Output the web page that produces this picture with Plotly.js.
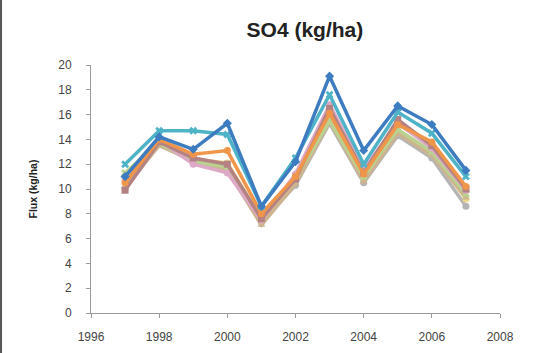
<!DOCTYPE html>
<html>
<head>
<meta charset="utf-8">
<script src="https://cdn.plot.ly/plotly-3.0.1.min.js"></script>
<style>
html,body{margin:0;padding:0;background:#fff;}
#chart{width:535px;height:353px;}
</style>
</head>
<body>
<div id="chart"></div>
<script>
const years = [1997, 1998, 1999, 2000, 2001, 2002, 2003, 2004, 2005, 2006, 2007];
const seriesNames = ["Gray", "Yellow", "Tan", "Green", "Pink", "Brown", "Orange", "Teal", "Blue"];
const grayVals   = [10.0, 13.6, 12.2, 11.6, 7.3, 10.3, 15.3, 10.5, 14.3, 12.5, 8.6];
const yellowVals = [10.6, 13.8, 12.4, 12.1, 7.6, 10.7, 15.7, 10.9, 14.7, 12.9, 9.2];
const tanVals    = [10.2, 13.5, 12.3, 11.5, 7.1, 10.4, 15.5, 10.6, 14.5, 12.7, 9.3];
const greenVals  = [11.3, 13.7, 12.2, 11.8, 7.8, 10.9, 15.5, 11.0, 14.8, 13.0, 9.6];
const pinkVals   = [10.8, 13.9, 12.0, 11.3, 7.5, 11.2, 16.8, 11.6, 15.3, 13.3, 9.9];
const brownVals  = [9.9, 13.8, 12.5, 12.0, 7.6, 10.8, 16.5, 11.3, 15.6, 13.5, 10.0];
const orangeVals = [10.5, 14.0, 12.8, 13.1, 8.0, 11.0, 16.1, 11.2, 15.2, 13.8, 10.2];
const tealVals   = [12.0, 14.7, 14.7, 14.4, 8.6, 12.5, 17.6, 12.0, 16.2, 14.5, 11.0];
const blueVals   = [11.0, 14.2, 13.2, 15.3, 8.6, 12.2, 19.1, 13.1, 16.7, 15.2, 11.5];
const xTicks = [1996, 1998, 2000, 2002, 2004, 2006, 2008];
const yTicks = [0, 2, 4, 6, 8, 10, 12, 14, 16, 18, 20];

const allVals = [grayVals, yellowVals, tanVals, greenVals, pinkVals, brownVals, orangeVals, tealVals, blueVals];
const colors = ["#b4b4b4", "#ecd98a", "#cdb48f", "#b9d28f", "#dca9c6", "#b48282", "#f0964a", "#4fb3c8", "#3d7cc0"];
const symbols = ["circle", "circle", "triangle-up", "x", "circle", "square", "circle", "x", "diamond"];

const traces = allVals.map((v, i) => ({
  x: years, y: v, name: seriesNames[i], type: 'scatter', mode: 'lines+markers',
  line: {color: colors[i], width: 3.5},
  marker: {color: colors[i], symbol: symbols[i], size: 7},
  showlegend: false
}));

const fontFam = 'Liberation Sans, Arial, sans-serif';
const layout = {
  width: 535, height: 353,
  margin: {l: 91, r: 35, t: 65, b: 40},
  paper_bgcolor: '#fff', plot_bgcolor: '#fff',
  title: {text: 'SO4 (kg/ha)', font: {family: fontFam, size: 21, color: '#222', weight: 'bold'}, x: 0.57, xanchor: 'center', y: 0.915, yanchor: 'middle'},
  xaxis: {range: [1996, 2008], tickvals: xTicks, ticktext: xTicks.map(String), showgrid: false, zeroline: false,
          showline: true, linecolor: '#9a9a9a', linewidth: 1, ticks: 'outside', ticklen: 4, tickcolor: '#9a9a9a',
          ticklabelstandoff: 9,
          tickfont: {family: fontFam, size: 12, color: '#444'}},
  yaxis: {range: [0, 20], tickvals: yTicks, showgrid: false, zeroline: false,
          showline: true, linecolor: '#9a9a9a', linewidth: 1, ticks: 'outside', ticklen: 4, tickcolor: '#9a9a9a',
          ticklabelstandoff: 12,
          tickfont: {family: fontFam, size: 12, color: '#444'},
          title: {text: 'Flux (kg/ha)', standoff: 18, font: {family: fontFam, size: 10.5, color: '#222', weight: 'bold'}}},
  shapes: [{type: 'line', xref: 'paper', yref: 'paper', x0: -0.2200, x1: -0.2200, y0: -0.17, y1: 1.27,
            line: {color: '#555', width: 2}}]
};

Plotly.newPlot('chart', traces, layout, {displayModeBar: false, staticPlot: true});
</script>
</body>
</html>
